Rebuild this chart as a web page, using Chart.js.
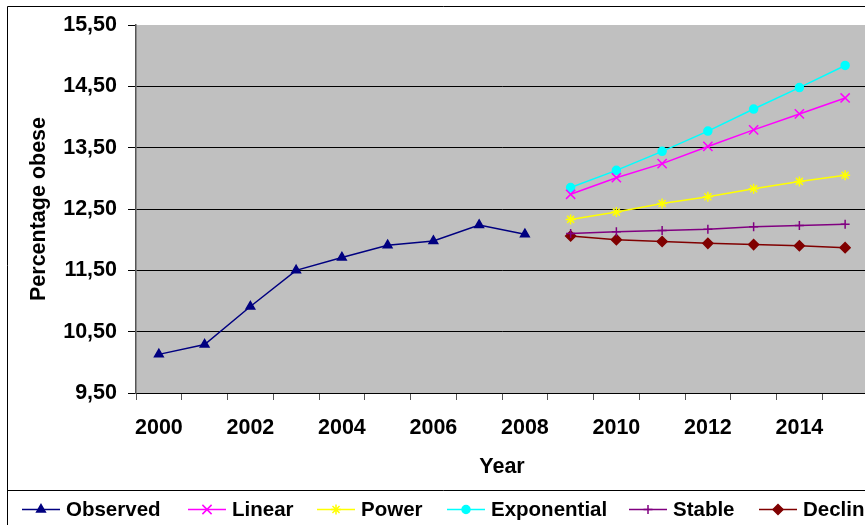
<!DOCTYPE html>
<html>
<head>
<meta charset="utf-8">
<script src="https://cdn.jsdelivr.net/npm/chart.js@4/dist/chart.umd.min.js"></script>
<style>
  html, body { margin: 0; padding: 0; background: #ffffff; overflow: hidden; }
  canvas { display: block; }
</style>
</head>
<body>
<canvas id="chart" width="880" height="525"></canvas>
<script>
// Years on the category axis
const years = ['2000','2001','2002','2003','2004','2005','2006','2007','2008',
               '2009','2010','2011','2012','2013','2014','2015'];

// Observed prevalence, 2000-2008
const observed = [10.13, 10.29, 10.91, 11.50, 11.71, 11.91, 11.98, 12.24, 12.09];

// Projections, 2009-2015
const linear      = [12.74, 13.01, 13.24, 13.52, 13.79, 14.05, 14.31];
const power       = [12.33, 12.45, 12.59, 12.70, 12.83, 12.95, 13.05];
const exponential = [12.85, 13.13, 13.44, 13.77, 14.13, 14.48, 14.84];
const stable      = [12.10, 12.13, 12.15, 12.17, 12.21, 12.23, 12.25];
const decline     = [12.06, 12.00, 11.97, 11.94, 11.92, 11.90, 11.87];

// Y axis ticks
const yMin = 9.5, yMax = 15.5, yStep = 1;

const projStart = years.indexOf('2009');
function observedSeries(vals) {
  return years.map((_, i) => i < vals.length ? vals[i] : null);
}
function projectedSeries(vals) {
  return years.map((_, i) => i >= projStart ? vals[i - projStart] : null);
}

const FONT = "'Liberation Sans', Arial, Helvetica, sans-serif";
Chart.defaults.font.family = FONT;
Chart.defaults.color = '#000000';

function series(label, data, color, style, radius) {
  return {
    label, data,
    borderColor: color,
    backgroundColor: color,
    borderWidth: 1.5,
    pointStyle: style,
    pointRadius: radius,
    pointHoverRadius: radius,
    pointBorderWidth: 1.5,
    pointBackgroundColor: color,
    pointBorderColor: color,
    fill: false,
    tension: 0,
    spanGaps: false
  };
}

const datasets = [
  series('Observed',    observedSeries(observed),     '#000080', 'triangle', 5),
  series('Linear',      projectedSeries(linear),      '#FF00FF', 'crossRot', 6.5),
  series('Power',       projectedSeries(power),       '#FFFF00', 'star',     5),
  series('Exponential', projectedSeries(exponential), '#00FFFF', 'circle',   4),
  series('Stable',      projectedSeries(stable),      '#800080', 'cross',    4.5),
  series('Decline',     projectedSeries(decline),     '#800000', 'rectRot',  5)
];

// Grey plot area and the chart frame lines
const framePlugin = {
  id: 'frame',
  beforeDraw(chart) {
    const { ctx, chartArea: a } = chart;
    ctx.save();
    ctx.fillStyle = '#C0C0C0';
    ctx.fillRect(a.left, a.top, a.right - a.left, a.bottom - a.top);
    ctx.strokeStyle = '#000000';
    ctx.lineWidth = 1;
    ctx.beginPath();
    ctx.moveTo(7.5, 525);
    ctx.lineTo(7.5, 6.5);
    ctx.lineTo(chart.width, 6.5);
    ctx.moveTo(7.5, 490.5);
    ctx.lineTo(chart.width, 490.5);
    ctx.stroke();
    ctx.restore();
  }
};

// Legend row: line sample with marker, then the series name
const legendStarts = [22, 188, 317, 447, 629, 759];
const legendPlugin = {
  id: 'lineLegend',
  afterDraw(chart) {
    const ctx = chart.ctx;
    const y = 509.5;
    ctx.save();
    ctx.font = "bold 20.5px " + FONT;
    ctx.textBaseline = 'middle';
    ctx.textAlign = 'left';
    chart.data.datasets.forEach((ds, i) => {
      const x = legendStarts[i];
      ctx.strokeStyle = ds.borderColor;
      ctx.lineWidth = 1.5;
      ctx.beginPath();
      ctx.moveTo(x, y);
      ctx.lineTo(x + 38, y);
      ctx.stroke();
      ctx.fillStyle = ds.pointBackgroundColor;
      ctx.strokeStyle = ds.pointBorderColor;
      ctx.lineWidth = ds.pointBorderWidth;
      Chart.helpers.drawPoint(ctx, {
        pointStyle: ds.pointStyle, radius: ds.pointRadius, rotation: 0,
        borderWidth: ds.pointBorderWidth
      }, x + 19, y);
      ctx.fillStyle = '#000000';
      ctx.fillText(ds.label, x + 44, y + 1);
    });
    ctx.restore();
  }
};

new Chart(document.getElementById('chart'), {
  type: 'line',
  data: { labels: years, datasets },
  plugins: [framePlugin, legendPlugin],
  options: {
    responsive: false,
    animation: false,
    devicePixelRatio: 1,
    layout: { padding: { top: 25, right: 12, bottom: 0, left: 0 } },
    plugins: {
      legend: { display: false },
      tooltip: { enabled: false }
    },
    scales: {
      x: {
        type: 'category',
        offset: true,
        grid: {
          offset: true,
          drawOnChartArea: false,
          drawTicks: true,
          tickLength: 7,
          tickColor: '#555555',
          lineWidth: 1
        },
        border: { display: true, color: '#000000', width: 1 },
        ticks: {
          autoSkip: false,
          maxRotation: 0,
          minRotation: 0,
          padding: 15,
          color: '#000000',
          font: { size: 21.5, weight: 'bold' },
          callback: function(value, index) {
            return index % 2 === 0 ? this.getLabelForValue(value) : '';
          }
        },
        title: {
          display: true,
          text: 'Year',
          color: '#000000',
          font: { size: 21.5, weight: 'bold' },
          padding: { top: 0, bottom: 45 }
        },
        afterFit(scale) { scale.height = 132; }
      },
      y: {
        min: yMin,
        max: yMax,
        grid: {
          color: ctx => (ctx.tick && ctx.tick.value === yMax) ? 'rgba(0,0,0,0)' : '#000000',
          tickColor: '#000000',
          tickLength: 8,
          lineWidth: 1,
          drawTicks: true
        },
        border: { display: true, color: '#555555', width: 1.5 },
        ticks: {
          stepSize: yStep,
          padding: 11,
          color: '#000000',
          font: { size: 21.5, weight: 'bold' },
          callback: v => v.toFixed(2).replace('.', ',')
        },
        title: {
          display: true,
          text: 'Percentage obese',
          color: '#000000',
          font: { size: 21.5, weight: 'bold' },
          padding: { top: 26, bottom: 0 }
        },
        afterFit(scale) { scale.width = 136; }
      }
    }
  }
});
</script>
</body>
</html>
